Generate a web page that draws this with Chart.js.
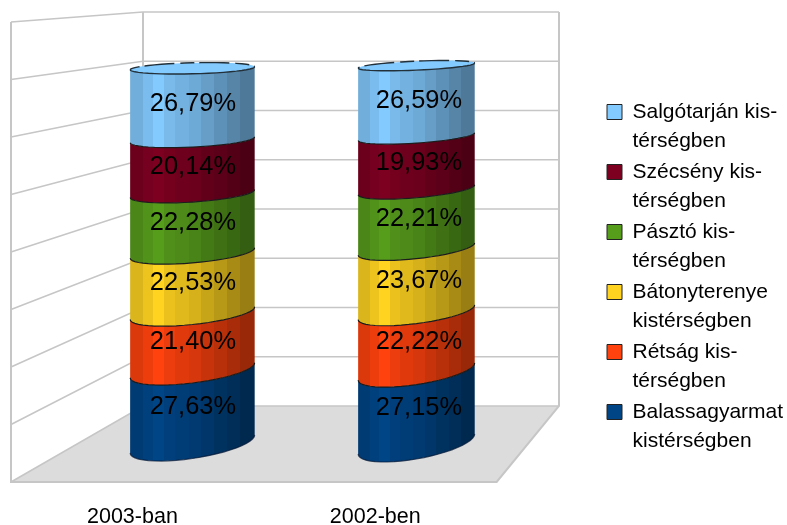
<!DOCTYPE html>
<html><head><meta charset="utf-8">
<style>html,body{margin:0;padding:0;background:#fff}canvas{display:block}</style>
<script src="https://cdn.jsdelivr.net/npm/chart.js@4"></script>
</head><body><canvas id="c" width="787" height="525"></canvas>
<script>
const categories = ['2003-ban', '2002-ben'];
const balassagyarmat = [27.63, 27.15];
const retsag = [21.40, 22.22];
const batonyterenye = [22.53, 23.67];
const paszto = [22.28, 22.21];
const szecseny = [20.14, 19.93];
const salgotarjan = [26.79, 26.59];
const seriesNames = [
  ['Balassagyarmat', 'kistérségben'],
  ['Rétság kis-', 'térségben'],
  ['Bátonyterenye', 'kistérségben'],
  ['Pásztó kis-', 'térségben'],
  ['Szécsény kis-', 'térségben'],
  ['Salgótarján kis-', 'térségben']
];
const seriesValues = [balassagyarmat, retsag, batonyterenye, paszto, szecseny, salgotarjan];
const seriesColors = ['#004586', '#ff420e', '#ffd320', '#579d1c', '#7e0021', '#83caff'];

const FONT = '"Liberation Sans", Arial, sans-serif';
const BACK = {left: 143, right: 559, top: 12, bottom: 406};
const GRID = '#c6c6c6';
const shades = [.86,.93,1,.92,.88,.84,.78,.72,.66,.6];
const bandEdges = [0,.1,.18,.27,.36,.47,.57,.67,.78,.88,1];
const cyl = [
  {dx: 2.7, wScale: 1.033, tilt0: -18, tilt1: -3, b0: 14.5, b1: 5.5, textDx: 0.5},
  {dx: 1.3, wScale: .967, tilt0: -20, tilt1: -5, b0: 15, b1: 4.5, textDx: 2.5}
];
function shade(hex, m) {
  const n = parseInt(hex.slice(1), 16);
  return 'rgb(' + [n >> 16, (n >> 8) & 255, n & 255].map(c => Math.round(c * m)).join(',') + ')';
}
const walls = {
  id: 'walls',
  beforeDatasetsDraw(chart) {
    const {ctx, chartArea: a, scales} = chart;
    const y = scales.y;
    const backY = p => BACK.bottom - (a.bottom - p) / (a.bottom - a.top) * (BACK.bottom - BACK.top);
    ctx.save();
    ctx.beginPath();
    ctx.moveTo(a.left, a.bottom); ctx.lineTo(a.right, a.bottom);
    ctx.lineTo(BACK.right, BACK.bottom); ctx.lineTo(BACK.left, BACK.bottom); ctx.closePath();
    ctx.fillStyle = '#dcdcdc'; ctx.fill();
    ctx.strokeStyle = GRID; ctx.lineWidth = 1.6;
    y.ticks.forEach(t => {
      const p = y.getPixelForValue(t.value);
      ctx.beginPath();
      ctx.moveTo(a.left, p); ctx.lineTo(BACK.left, backY(p)); ctx.lineTo(BACK.right, backY(p));
      ctx.stroke();
    });
    ctx.lineWidth = 2;
    ctx.beginPath();
    ctx.moveTo(a.left, a.top); ctx.lineTo(a.left, a.bottom); ctx.lineTo(a.right, a.bottom);
    ctx.lineTo(BACK.right, BACK.bottom); ctx.lineTo(BACK.right, BACK.top);
    ctx.moveTo(BACK.left, BACK.top); ctx.lineTo(BACK.left, BACK.bottom);
    ctx.stroke();
    ctx.restore();
  },
  beforeDatasetDraw() { return false; },
  afterDatasetsDraw(chart) {
    const {ctx, chartArea: a} = chart;
    const frac = .5;
    const midX = x => x + frac * (BACK.left + (x - a.left) / (a.right - a.left) * (BACK.right - BACK.left) - x);
    const midY = p => p + frac * (BACK.bottom - (a.bottom - p) / (a.bottom - a.top) * (BACK.bottom - BACK.top) - p);
    const metas = chart.data.datasets.map((d, i) => chart.getDatasetMeta(i));
    categories.forEach((cat, i) => {
      const g = cyl[i];
      const top = midY(metas[metas.length - 1].data[i].y), bot = midY(metas[0].data[i].base);
      const el0 = metas[0].data[i];
      const cx = midX(el0.x) + g.dx;
      const r = el0.width * .928 * g.wScale / 2;
      const arc = (py, from, to) => {
        const f = (bot - py) / (bot - top);
        const tilt = g.tilt0 + (g.tilt1 - g.tilt0) * f, b = g.b0 + (g.b1 - g.b0) * f;
        const pts = [];
        for (let k = 0; k <= 24; k++) {
          const t = from + (to - from) * k / 24;
          pts.push([cx + r * Math.cos(t), py + b * Math.sin(t) + tilt / 2 * Math.cos(t)]);
        }
        return pts;
      };
      metas.forEach((m, s) => {
        const el = m.data[i];
        const lo = arc(midY(el.base), Math.PI, 0), hi = arc(midY(el.y), 0, Math.PI);
        const grad = ctx.createLinearGradient(cx - r, 0, cx + r, 0);
        shades.forEach((v, k) => {
          grad.addColorStop(bandEdges[k], shade(seriesColors[s], v));
          grad.addColorStop(bandEdges[k + 1], shade(seriesColors[s], v));
        });
        ctx.beginPath();
        lo.concat(hi).forEach((p, k) => k ? ctx.lineTo(p[0], p[1]) : ctx.moveTo(p[0], p[1]));
        ctx.closePath();
        ctx.fillStyle = grad; ctx.fill();
        ctx.beginPath();
        lo.forEach((p, k) => k ? ctx.lineTo(p[0], p[1]) : ctx.moveTo(p[0], p[1]));
        ctx.strokeStyle = s === 0 ? 'rgba(0,20,50,.7)' : '#1c1c1c';
        ctx.lineWidth = 1.2; ctx.stroke();
      });
      const last = metas.length - 1, tp = midY(metas[last].data[i].y);
      const front = arc(tp, Math.PI, 0), back = arc(tp, 0, -Math.PI);
      ctx.beginPath();
      front.concat(back).forEach((p, k) => k ? ctx.lineTo(p[0], p[1]) : ctx.moveTo(p[0], p[1]));
      ctx.closePath();
      ctx.fillStyle = seriesColors[last]; ctx.fill();
      ctx.beginPath();
      front.forEach((p, k) => k ? ctx.lineTo(p[0], p[1]) : ctx.moveTo(p[0], p[1]));
      ctx.strokeStyle = '#22303a'; ctx.lineWidth = 1.4; ctx.stroke();
      ctx.beginPath();
      back.forEach((p, k) => k ? ctx.lineTo(p[0], p[1]) : ctx.moveTo(p[0], p[1]));
      ctx.setLineDash([14, 6, 30, 5]); ctx.lineDashOffset = -6;
      ctx.stroke(); ctx.setLineDash([]);
      ctx.fillStyle = '#000'; ctx.font = '25.4px ' + FONT;
      ctx.textAlign = 'center'; ctx.textBaseline = 'middle';
      metas.forEach((m, s) => {
        const el = m.data[i];
        const yy = midY((el.y + el.base) / 2);
        ctx.fillText(seriesValues[s][i].toFixed(2).replace('.', ',') + '%', cx + g.textDx, yy);
      });
    });
  },
  afterLayout(chart) { const l = chart.legend; l.left = 605; l.top += 7; l.bottom += 7; }
};
new Chart(document.getElementById('c'), {
  type: 'bar',
  data: {
    labels: categories,
    datasets: seriesValues.map((v, i) => ({label: seriesNames[i].join(' '), data: v, backgroundColor: seriesColors[i]}))
  },
  plugins: [walls],
  options: {
    responsive: false, animation: false,
    layout: {padding: {left: 11, top: 22, right: 0, bottom: 0}},
    datasets: {bar: {categoryPercentage: 1, barPercentage: .535}},
    scales: {
      x: {stacked: true, grid: {display: false}, border: {display: false},
        ticks: {color: '#000', font: {family: FONT, size: 21.5}, padding: 14, maxRotation: 0},
        afterFit(s) { s.height = 43; }},
      y: {stacked: true, min: 0, max: 160, ticks: {stepSize: 20, display: false},
        grid: {display: false}, border: {display: false}, afterFit(s) { s.width = 0; }},
      gap: {type: 'linear', position: 'right', grid: {display: false}, border: {display: false},
        ticks: {display: false}, afterFit(s) { s.width = 161; }}
    },
    plugins: {
      tooltip: {enabled: false},
      legend: {
        position: 'right', align: 'center',
        labels: {
          color: '#000', boxWidth: 15, boxHeight: 15, padding: 2,
          font: {family: FONT, size: 21, lineHeight: '29px'},
          generateLabels() {
            return seriesNames.map((n, i) => ({text: n, fillStyle: seriesColors[i], strokeStyle: '#222', lineWidth: 1, datasetIndex: i})).reverse();
          }
        }
      }
    }
  }
});
</script></body></html>
